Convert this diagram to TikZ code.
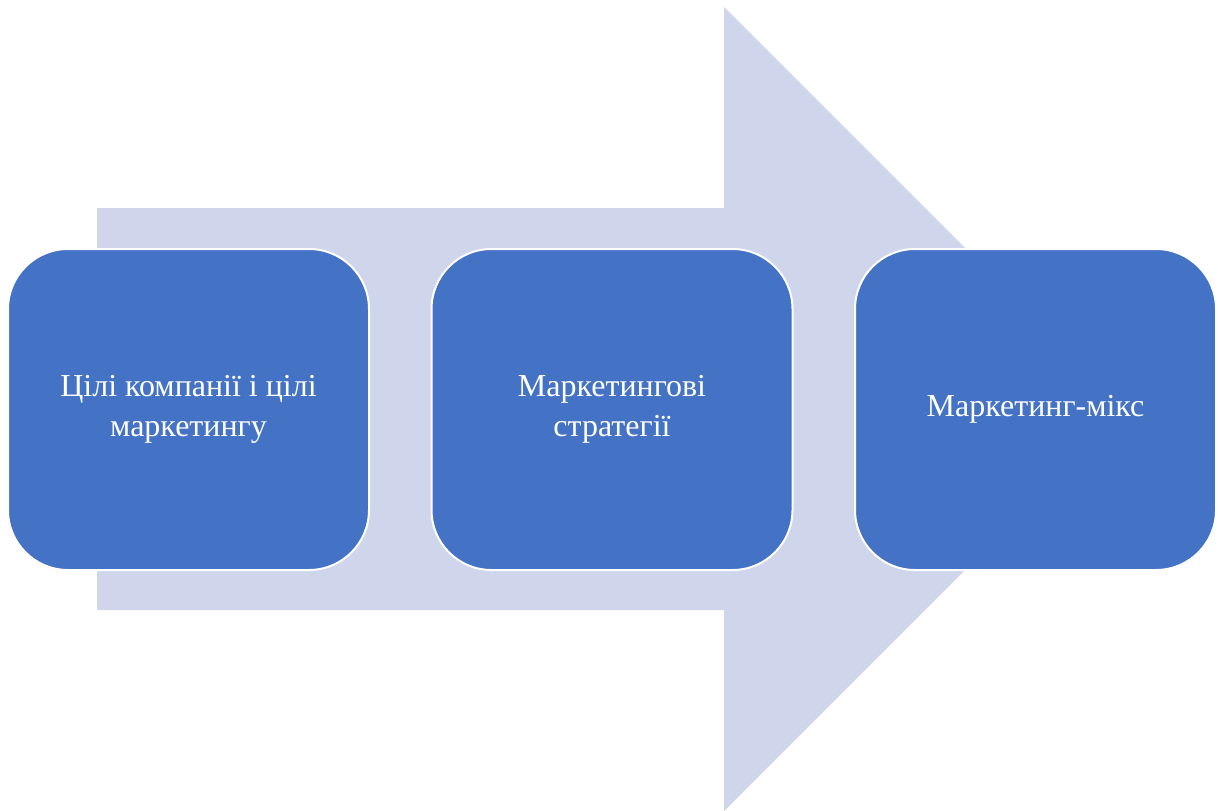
\documentclass[tikz,border=0pt]{standalone}
\usepackage{fontspec}
\setmainfont{Liberation Serif}
\definecolor{arrowfill}{HTML}{CFD5EA}
\definecolor{boxfill}{HTML}{4472C4}
\begin{document}
\begin{tikzpicture}[x=1pt,y=-1pt,
  stagebox/.style={draw=white,line width=2pt,fill=boxfill,rounded corners=60pt,
    minimum width=361pt,minimum height=321pt,text=white,align=center,
    font=\fontsize{32}{40}\selectfont,inner sep=0pt}]
\useasboundingbox (0,0) rectangle (1218,811);
\fill[arrowfill] (97,208) -- (724,208) -- (724,7) -- (1126,409) -- (724,811) -- (724,610) -- (97,610) -- cycle;
\node[stagebox] (a) at (188.5,409.5) {Цілі компанії і цілі\\маркетингу};
\node[stagebox] (b) at (612,409.5) {Маркетингові\\стратегії};
\node[stagebox] (c) at (1035.5,409.5) {Маркетинг-мікс};
\end{tikzpicture}
\end{document}
